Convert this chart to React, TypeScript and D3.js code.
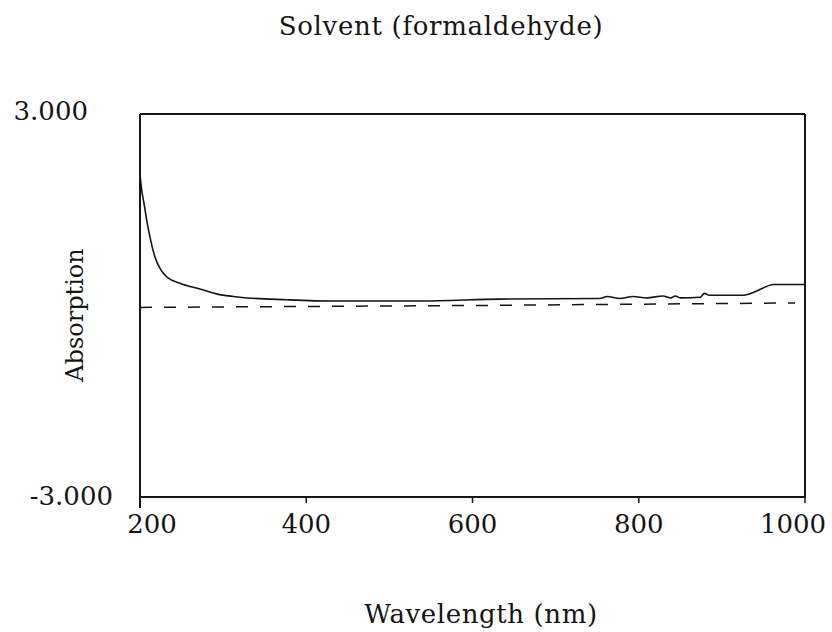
import React from 'react';
import * as d3 from 'd3';

// sample spectrum (nm, absorption)
const wavelengths = [200, 202, 205, 208, 212, 218, 224, 232, 248, 272, 296, 320, 377, 432, 537, 633, 753, 762, 777, 793, 810, 829, 839, 844, 850, 874, 879, 885, 925, 937, 949, 962, 998, 1000];
const absorption = [2.06, 1.81, 1.59, 1.34, 1.07, 0.76, 0.58, 0.45, 0.35, 0.26, 0.17, 0.13, 0.09, 0.07, 0.07, 0.1, 0.11, 0.14, 0.11, 0.14, 0.12, 0.15, 0.12, 0.15, 0.12, 0.13, 0.19, 0.16, 0.16, 0.2, 0.27, 0.33, 0.33, 0.33];

// baseline (dashed)
const baseWavelengths = [200, 600, 988];
const baseAbsorption = [-0.03, 0.0, 0.04];

const xTicks = [200, 400, 600, 800, 1000];
const yTicks = [3, -3];

const W = 832;
const H = 632;
const margin = { left: 140, right: 27, top: 114, bottom: 135 };
const FONT = '"DejaVu Serif", serif';
const INK = '#151515';

export default function App() {
  const x = d3.scaleLinear().domain([200, 1000]).range([margin.left, W - margin.right]);
  const y = d3.scaleLinear().domain([-3, 3]).range([H - margin.bottom, margin.top]);

  const line = d3
    .line<number>()
    .x((d, i) => x(wavelengths[i]))
    .y((d) => y(d))
    .curve(d3.curveMonotoneX);

  const baseLine = d3
    .line<number>()
    .x((d, i) => x(baseWavelengths[i]))
    .y((d) => y(d));

  const fmt = (v: number) => d3.format('.3f')(v).replace('\u2212', '-');

  const x0 = x(200);
  const x1 = x(1000);
  const yTop = y(3);
  const yBot = y(-3);

  return (
    <svg width={W} height={H} style={{ position: 'absolute', left: 0, top: 0, background: '#fff' }} fontFamily={FONT}>
      <text x={441} y={35} textAnchor="middle" fontSize={26} letterSpacing={0.7} fill={INK}>
        Solvent (formaldehyde)
      </text>

      {/* frame */}
      <g stroke={INK} strokeWidth={2} fill="none">
        <line x1={x0} x2={x1} y1={yTop} y2={yTop} />
        <line x1={x1} x2={x1} y1={yTop} y2={yBot} />
        <line x1={x0} x2={x1} y1={yBot} y2={yBot} />
        <line x1={x0} x2={x0} y1={yTop} y2={yBot + 11} />
      </g>

      {/* x ticks */}
      <g stroke={INK} strokeWidth={1.5}>
        {xTicks.slice(1).map((t) => (
          <line key={t} x1={x(t)} x2={x(t)} y1={yBot} y2={yBot + 6} />
        ))}
      </g>
      <g fontSize={26} textAnchor="middle" fill={INK}>
        {xTicks.map((t, i) => (
          <text key={t} x={x(t) + (i === 0 ? 12 : i === xTicks.length - 1 ? -12 : 0)} y={yBot + 36}>
            {t}
          </text>
        ))}
      </g>

      {/* y tick labels */}
      <g fontSize={26} textAnchor="end" fill={INK}>
        {yTicks.map((t) => (
          <text key={t} x={t > 0 ? x0 - 52 : x0 - 27} y={y(t) + (t > 0 ? 6 : 8)}>
            {fmt(t)}
          </text>
        ))}
      </g>

      <text
        transform={`translate(83,315) rotate(-90)`}
        textAnchor="middle"
        fontSize={24}
        fill={INK}
      >
        Absorption
      </text>

      <text x={481} y={623} textAnchor="middle" fontSize={26} letterSpacing={0.6} fill={INK}>
        Wavelength (nm)
      </text>

      <path d={baseLine(baseAbsorption) ?? ''} fill="none" stroke={INK} strokeWidth={1.5} strokeDasharray="12,12" />
      <path d={line(absorption) ?? ''} fill="none" stroke={INK} strokeWidth={1.6} />
    </svg>
  );
}
